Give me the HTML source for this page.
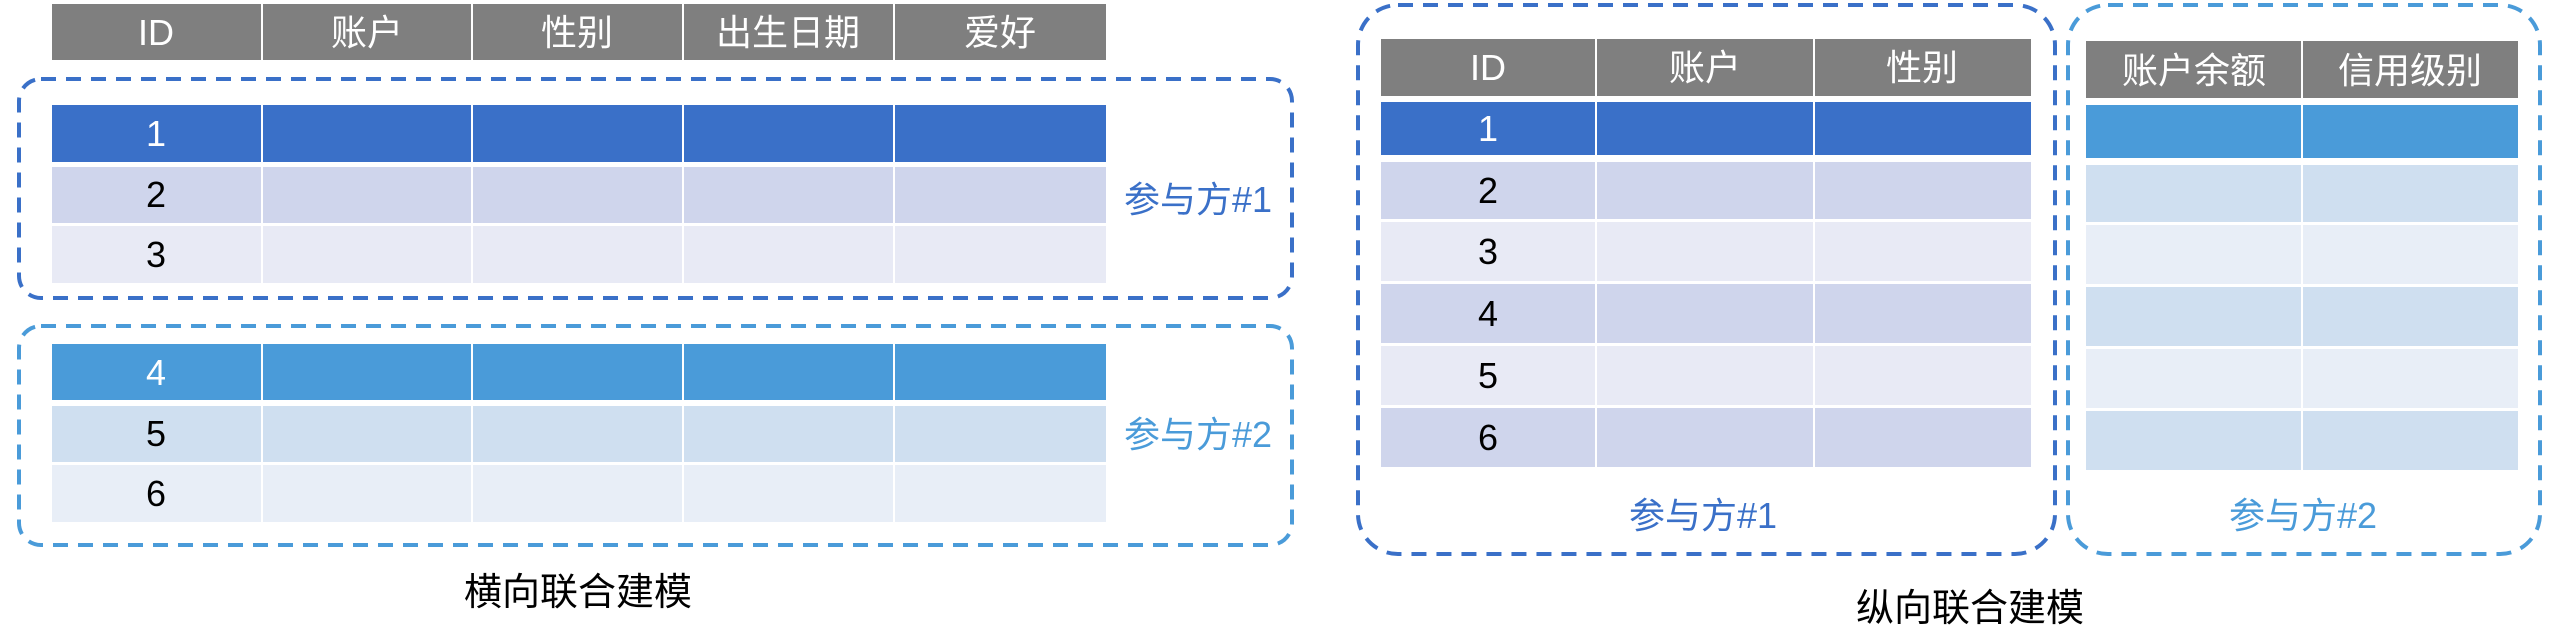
<!DOCTYPE html>
<html><head><meta charset="utf-8"><style>
html,body{margin:0;padding:0;background:#fff;}
svg{display:block;}
text{font-family:"Liberation Sans","Noto Sans CJK SC",sans-serif;}
</style></head><body>
<svg width="2560" height="635" xmlns="http://www.w3.org/2000/svg">
<!-- LEFT: horizontal -->
<rect x="52" y="4" width="1054" height="56" fill="#7f7f7f"/>
<rect x="52" y="105" width="1054" height="57" fill="#3a70c8"/>
<rect x="52" y="167" width="1054" height="56" fill="#cfd5ec"/>
<rect x="52" y="226" width="1054" height="57" fill="#e8eaf5"/>
<rect x="52" y="344" width="1054" height="56" fill="#4a9bd9"/>
<rect x="52" y="406" width="1054" height="56" fill="#cfdff0"/>
<rect x="52" y="465" width="1054" height="57" fill="#e8eef7"/>
<g fill="#fff">
<rect x="261" y="0" width="2" height="530"/><rect x="471" y="0" width="2" height="530"/>
<rect x="682" y="0" width="2" height="530"/><rect x="893" y="0" width="2" height="530"/>
</g>
<g font-size="36" text-anchor="middle" fill="#fff">
<text x="156" y="45">ID</text><text x="367" y="45">账户</text><text x="577" y="45">性别</text>
<text x="788" y="45">出生日期</text><text x="1000" y="45">爱好</text>
<text x="156" y="146">1</text><text x="156" y="385">4</text>
</g>
<g font-size="36" text-anchor="middle" fill="#000">
<text x="156" y="207">2</text><text x="156" y="267">3</text>
<text x="156" y="446">5</text><text x="156" y="506">6</text>
</g>
<rect x="19" y="79" width="1273" height="219" rx="22" fill="none" stroke="#3a70c8" stroke-width="4" stroke-dasharray="15 10"/>
<rect x="19" y="326" width="1273" height="219" rx="22" fill="none" stroke="#4a9bd9" stroke-width="4" stroke-dasharray="15 10"/>
<text x="1198" y="212" font-size="36" text-anchor="middle" fill="#3a70c8">参与方#1</text>
<text x="1198" y="447" font-size="36" text-anchor="middle" fill="#4a9bd9">参与方#2</text>
<text x="578" y="605" font-size="38" text-anchor="middle" fill="#000">横向联合建模</text>

<!-- RIGHT: vertical P1 -->
<rect x="1381" y="39" width="650" height="57" fill="#7f7f7f"/>
<rect x="1381" y="102" width="650" height="53" fill="#3a70c8"/>
<rect x="1381" y="162" width="650" height="57" fill="#cfd5ec"/>
<rect x="1381" y="222" width="650" height="59" fill="#e8eaf5"/>
<rect x="1381" y="284" width="650" height="59" fill="#cfd5ec"/>
<rect x="1381" y="346" width="650" height="59" fill="#e8eaf5"/>
<rect x="1381" y="408" width="650" height="59" fill="#cfd5ec"/>
<g fill="#fff"><rect x="1595" y="35" width="2" height="440"/><rect x="1813" y="35" width="2" height="440"/></g>
<g font-size="36" text-anchor="middle" fill="#fff">
<text x="1488" y="80">ID</text><text x="1705" y="80">账户</text><text x="1922" y="80">性别</text>
<text x="1488" y="141">1</text>
</g>
<g font-size="36" text-anchor="middle" fill="#000">
<text x="1488" y="203">2</text><text x="1488" y="264">3</text><text x="1488" y="326">4</text>
<text x="1488" y="388">5</text><text x="1488" y="450">6</text>
</g>
<rect x="1358" y="5" width="697" height="549" rx="40" fill="none" stroke="#3a70c8" stroke-width="4" stroke-dasharray="15 10"/>
<text x="1703" y="528" font-size="36" text-anchor="middle" fill="#3a70c8">参与方#1</text>

<!-- RIGHT: P2 -->
<rect x="2086" y="41" width="432" height="57" fill="#7f7f7f"/>
<rect x="2086" y="105" width="432" height="53" fill="#4a9bd9"/>
<rect x="2086" y="165" width="432" height="57" fill="#cfdff0"/>
<rect x="2086" y="225" width="432" height="59" fill="#e8eef7"/>
<rect x="2086" y="287" width="432" height="59" fill="#cfdff0"/>
<rect x="2086" y="349" width="432" height="59" fill="#e8eef7"/>
<rect x="2086" y="411" width="432" height="59" fill="#cfdff0"/>
<rect x="2301" y="38" width="2" height="440" fill="#fff"/>
<g font-size="36" text-anchor="middle" fill="#fff">
<text x="2194" y="83">账户余额</text><text x="2410" y="83">信用级别</text>
</g>
<rect x="2068" y="5" width="472" height="549" rx="40" fill="none" stroke="#4a9bd9" stroke-width="4" stroke-dasharray="15 10"/>
<text x="2303" y="528" font-size="36" text-anchor="middle" fill="#4a9bd9">参与方#2</text>
<text x="1970" y="621" font-size="38" text-anchor="middle" fill="#000">纵向联合建模</text>
</svg>
</body></html>
